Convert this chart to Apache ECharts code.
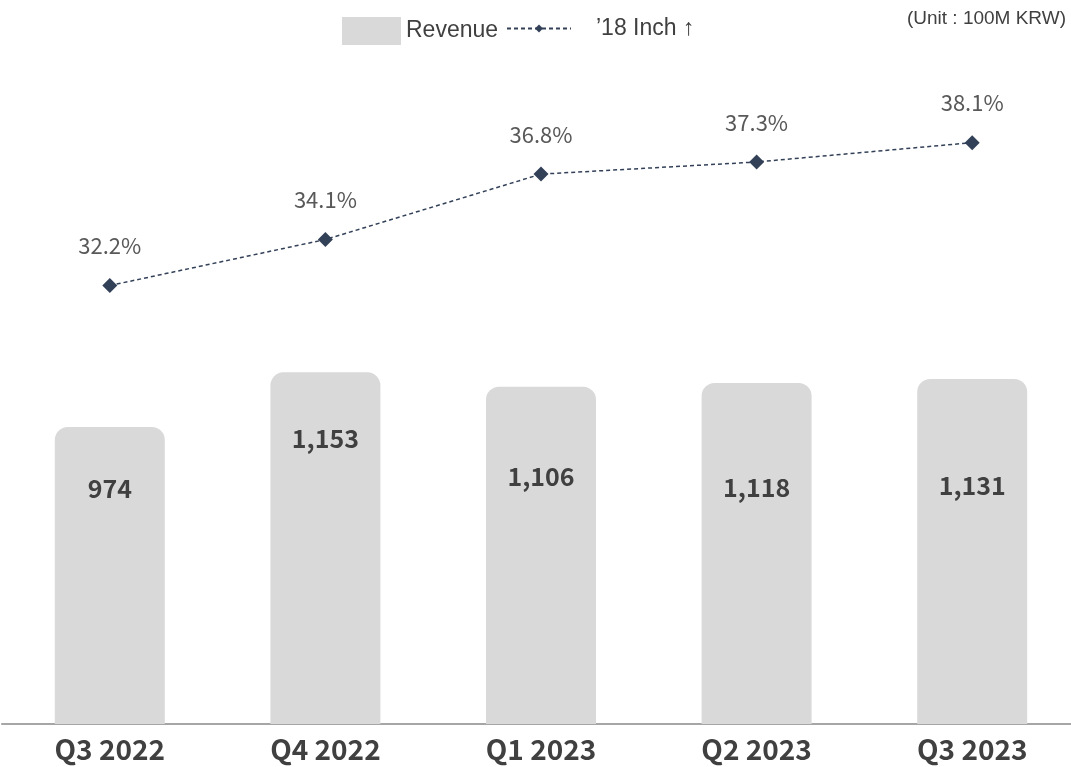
<!DOCTYPE html>
<html>
<head>
<meta charset="utf-8">
<script src="https://cdn.jsdelivr.net/npm/echarts@6/dist/echarts.min.js"></script>
<style>
  html, body { margin: 0; padding: 0; background: #fff; overflow: hidden; }
  #chart { width: 1080px; height: 767px; }
</style>
</head>
<body>
<div id="chart"></div>
<script>
const quarters = ['Q3 2022', 'Q4 2022', 'Q1 2023', 'Q2 2023', 'Q3 2023']
const revenue = [974, 1153, 1106, 1118, 1131]
const share18 = [32.2, 34.1, 36.8, 37.3, 38.1]

// label drop inside each bar (the source places them unevenly)
const labelDrop = [49, 54, 77, 92, 94]

const chart = echarts.init(document.getElementById('chart'))

const sans = "'Noto Sans CJK KR', 'Noto Sans', sans-serif"
const arial = "'Liberation Sans', Arial, sans-serif"

chart.setOption({
  animation: false,
  title: {
    text: '(Unit : 100M KRW)',
    right: 9,
    top: 4,
    textStyle: { fontFamily: arial, fontSize: 19, fontWeight: 'normal', color: '#404040' },
  },
  legend: [
    {
      data: [{ name: 'Revenue', icon: 'rect' }],
      left: 337,
      top: 12,
      itemWidth: 59,
      itemHeight: 28,
      textStyle: { fontFamily: arial, fontSize: 23, color: '#404040' },
    },
    {
      data: ['\u201918 Inch \u2191'],
      left: 501,
      top: 12,
      itemWidth: 64,
      itemHeight: 10,
      textStyle: { fontFamily: arial, fontSize: 23, color: '#404040', padding: [0, 0, 0, 20] },
    },
  ],
  grid: { left: 2, right: 0, top: 53, bottom: 43 },
  xAxis: {
    type: 'category',
    data: quarters,
    axisTick: { show: false },
    axisLine: { lineStyle: { color: '#a6a6a6', width: 2 } },
    axisLabel: {
      color: '#404040',
      fontFamily: sans,
      fontWeight: 'bold',
      fontSize: 28,
      margin: 11,
    },
  },
  yAxis: [
    { type: 'value', min: 0, max: 2200, show: false, splitLine: { show: false } },
    { type: 'value', min: 14.1, max: 41.8, show: false, splitLine: { show: false } },
  ],
  series: [
    {
      name: 'Revenue',
      type: 'bar',
      barWidth: 110,
      data: revenue.map((v, i) => ({
        value: v,
        label: { distance: labelDrop[i] },
      })),
      itemStyle: { color: '#d9d9d9', borderRadius: [13, 13, 0, 0] },
      label: {
        show: true,
        position: 'insideTop',
        color: '#404040',
        fontFamily: sans,
        fontWeight: 'bold',
        fontSize: 25,
        formatter: p => p.value.toLocaleString('en-US'),
      },
    },
    {
      name: '\u201918 Inch \u2191',
      type: 'line',
      yAxisIndex: 1,
      data: share18,
      symbol: 'diamond',
      symbolSize: 15,
      itemStyle: { color: '#334158' },
      lineStyle: { color: '#334158', width: 1.5, type: [4, 3] },
      label: {
        show: true,
        position: 'top',
        distance: 21,
        color: '#595959',
        fontFamily: sans,
        fontSize: 22,
        formatter: p => p.value.toFixed(1) + '%',
      },
    },
  ],
})
</script>
</body>
</html>
